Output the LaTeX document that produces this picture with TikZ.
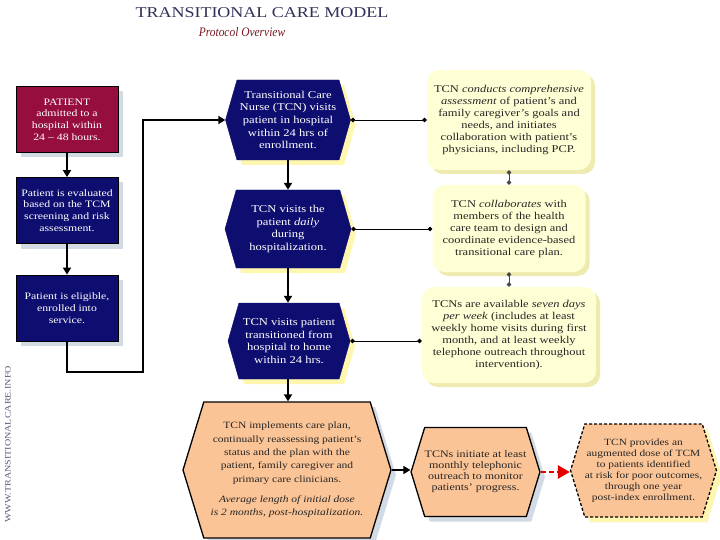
\documentclass[tikz,border=0pt]{standalone}
\usepackage{fontspec}
\setmainfont[FakeStretch=1.2]{Liberation Serif}
\newfontfamily\subfont[FakeStretch=0.88]{Liberation Serif}
\usetikzlibrary{shapes.symbols,shadows,arrows.meta}
\definecolor{navy}{RGB}{14,14,112}
\definecolor{crimson}{RGB}{150,14,62}
\definecolor{ylight}{RGB}{255,255,214}
\definecolor{yshadow}{RGB}{238,234,176}
\definecolor{hexglow}{RGB}{255,246,176}
\definecolor{peach}{RGB}{251,196,150}
\definecolor{shadowgray}{RGB}{210,218,228}
\definecolor{titlecol}{RGB}{48,48,88}
\definecolor{subcol}{RGB}{120,22,30}
\definecolor{linkgray}{RGB}{70,70,70}
\begin{document}
\begin{tikzpicture}[x=1pt,y=-1pt,
  txt/.style={align=center},
  leftbox/.style={txt,font=\fontsize{9.8}{11.7}\selectfont,draw=black,line width=0.8pt,
    minimum width=102pt,minimum height=66pt,text=white,inner sep=1pt,
    drop shadow={shadow xshift=5pt,shadow yshift=-5pt,fill=shadowgray,opacity=1}},
  navyhex/.style={txt,font=\fontsize{10.5}{12.7}\selectfont,shape=signal,
    signal to=east and west,signal pointer angle=148,
    fill=navy,draw=navy,text=white,inner sep=0pt,
    drop shadow={shadow xshift=5pt,shadow yshift=-5pt,fill=hexglow,opacity=1}},
  peachhex/.style={txt,shape=signal,signal to=east and west,signal pointer angle=146,
    fill=peach,draw=black,line width=1.3pt,text=black!85,inner sep=0pt,
    drop shadow={shadow xshift=5pt,shadow yshift=-5pt,fill=shadowgray,opacity=1}},
  ybox/.style={txt,font=\fontsize{10.4}{12}\selectfont,rounded corners=12pt,fill=ylight,
    text=black!85,inner sep=1pt,
    drop shadow={shadow xshift=4pt,shadow yshift=-4pt,fill=yshadow,opacity=1}},
  flow/.style={line width=1.8pt,-{Triangle[length=7pt,width=8pt]}},
  link/.style={line width=0.9pt,{Circle[length=4.5pt]}-{Circle[length=4.5pt]}},
  vlink/.style={line width=0.9pt,draw=linkgray,{Circle[length=4.5pt]}-{Circle[length=4.5pt]}}
]
\useasboundingbox (0,0) rectangle (720,540);

% title
\node[font=\fontsize{15}{18}\selectfont,text=titlecol] (title) at (262,13) {TRANSITIONAL CARE MODEL};
\node[font=\subfont\fontsize{13}{15}\selectfont\itshape,text=subcol] (sub) at (242,32) {Protocol Overview};
\node[rotate=90,font=\fontsize{8.4}{9}\selectfont,text=titlecol!80] (url) at (8,444.5) {WWW.TRANSITIONALCARE.INFO};

% left column
\node[leftbox,fill=crimson] (b1) at (67,119.5) {PATIENT\\admitted to a\\hospital within\\24 -- 48 hours.};
\node[leftbox,fill=navy] (b2) at (67,210.5) {Patient is evaluated\\based on the TCM\\screening and risk\\assessment.};
\node[leftbox,fill=navy] (b3) at (67,308) {Patient is eligible,\\enrolled into\\service.};

% middle hexagons
\node[navyhex,minimum width=125pt,minimum height=80pt] (h1) at (288,120) {Transitional Care\\Nurse (TCN) visits\\patient in hospital\\within 24 hrs of\\enrollment.};
\node[navyhex,minimum width=126pt,minimum height=78pt] (h2) at (288,229) {TCN visits the\\patient \textit{daily}\\during\\hospitalization.};
\node[navyhex,minimum width=122pt,minimum height=76pt] (h3) at (289,341) {TCN visits patient\\transitioned from\\hospital to home\\within 24 hrs.};

% right boxes
\node[ybox,minimum width=164pt,minimum height=100pt] (r1) at (509,120) {TCN \textit{conducts comprehensive}\\\textit{assessment} of patient’s and\\family caregiver’s goals and\\needs, and initiates\\collaboration with patient’s\\physicians, including PCP.};
\node[ybox,minimum width=153pt,minimum height=87pt] (r2) at (509,228.5) {TCN \textit{collaborates} with\\members of the health\\care team to design and\\coordinate evidence-based\\transitional care plan.};
\node[ybox,minimum width=174pt,minimum height=96pt] (r3) at (509,335) {TCNs are available \textit{seven days}\\\textit{per week} (includes at least\\weekly home visits during first\\month, and at least weekly\\telephone outreach throughout\\intervention).};

% bottom hexagons
\node[peachhex,font=\fontsize{9.6}{13.3}\selectfont,minimum width=208pt,minimum height=136pt] (h4) at (287,470) {TCN implements care plan,\\continually reassessing patient’s\\status and the plan with the\\patient, family caregiver and\\primary care clinicians.\\[7pt]\textit{Average length of initial dose}\\\textit{is 2 months, post-hospitalization.}};
\node[peachhex,font=\fontsize{10}{11}\selectfont,minimum width=125pt,minimum height=89pt] (h5) at (475.5,472) {TCNs initiate at least\\monthly telephonic\\outreach to monitor\\patients’ progress.};
\node[peachhex,font=\fontsize{9.5}{11}\selectfont,dash pattern=on 3pt off 2pt,drop shadow={shadow xshift=5pt,shadow yshift=-5pt,fill=hexglow,opacity=1},minimum width=143pt,minimum height=93pt] (h6) at (643.5,470.5) {TCN provides an\\augmented dose of TCM\\to patients identified\\at risk for poor outcomes,\\through one year\\post-index enrollment.};

% connectors
\draw[flow] (b1.south) -- (b2.north);
\draw[flow] (b2.south) -- (b3.north);
\coordinate (c1) at (143,372);
\coordinate (c2) at (143,120);
\draw[flow] (b3.south) |- (c1) -- (c2) -- (h1.west);
\draw[flow] (h1.south) -- (h1.south |- h2.north);
\draw[flow] (h2.south) -- (h2.south |- h3.north);
\draw[flow] (h3.south -| h2.south) -- (h2.south |- h4.north);
\draw[link] (h1.east) -- (h1.east -| r1.west);
\draw[link] (h2.east) -- (h2.east -| r2.west);
\draw[link] (h3.east) -- (h3.east -| r3.west);
\draw[vlink] (r1.south) -- (r2.north);
\draw[vlink] (r2.south) -- (r3.north);
\draw[line width=1.3pt,-{Triangle[length=7pt,width=8pt]}] (h4.east) -- (h5.west |- h4.east);
\draw[red!90!black,line width=2.6pt,dash pattern=on 5pt off 3pt,-{Triangle[length=12pt,width=13pt]}] (h5.east) -- (h6.west |- h5.east);
\end{tikzpicture}
\end{document}
